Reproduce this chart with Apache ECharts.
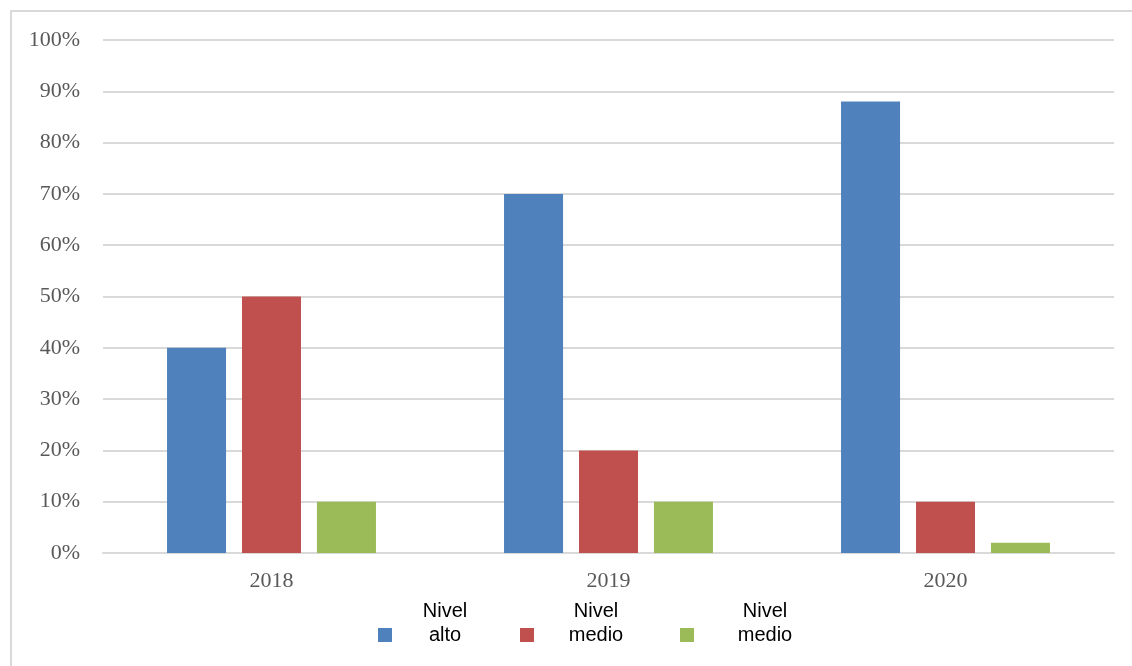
<!DOCTYPE html>
<html>
<head>
<meta charset="utf-8">
<script src="https://cdn.jsdelivr.net/npm/echarts@6/dist/echarts.min.js"></script>
<style>
    html, body { margin: 0; padding: 0; background: #fff; }
    .frame {
        position: absolute;
        left: 10px;
        top: 10px;
        width: 1122px;
        height: 656px;
        border-top: 2px solid #d9d9d9;
        border-left: 2px solid #d9d9d9;
        box-sizing: border-box;
    }
    #chart { position: absolute; left: 0; top: 0; width: 1132px; height: 666px; }
</style>
</head>
<body>
<div class="frame"></div>
<div id="chart"></div>
<script>
const years = ['2018', '2019', '2020'];
const seriesNames = ['Nivel alto', 'Nivel medio', 'Nivel medio '];
const nivelAlto = [40, 70, 88];
const nivelMedio = [50, 20, 10];
const nivelMedio2 = [10, 10, 2];
const yTicks = [0, 10, 20, 30, 40, 50, 60, 70, 80, 90, 100];

const colors = ['#4f81bd', '#c0504d', '#9bbb59'];
const values = [nivelAlto, nivelMedio, nivelMedio2];
// legend text widths differ a bit per item in the original
const legendWidths = [96, 114, 132];

const chartInstance = echarts.init(document.getElementById('chart'));

const series = seriesNames.map((name, i) => ({
    name: name,
    type: 'bar',
    data: values[i],
    barGap: '27%',
    barCategoryGap: '38%',
    itemStyle: { color: colors[i] }
}));

const legendData = seriesNames.map((name, i) => ({
    name: name,
    textStyle: {
        rich: {
            c: {
                width: legendWidths[i],
                align: 'center',
                fontFamily: 'Liberation Sans',
                fontSize: 20,
                lineHeight: 24,
                color: '#000'
            }
        }
    }
}));

// square sits low, next to the second text line (tiny sliver on top keeps the box tall)
const legendIcon = 'path://M0,0L14,0L14,0.01L0,0.01Z M0,24L14,24L14,38L0,38Z';

const option = {
    animation: false,
    color: colors,
    grid: {
        left: 103,
        right: 18,
        top: 40,
        bottom: 113,
        containLabel: false
    },
    legend: {
        data: legendData,
        bottom: 16,
        left: 373,
        itemWidth: 14,
        itemHeight: 38,
        itemGap: 27,
        icon: legendIcon,
        formatter: name => {
            const parts = name.trim().split(' ');
            return '{c|' + parts[0] + '}\n{c|' + parts[1] + '}';
        }
    },
    xAxis: {
        type: 'category',
        data: years,
        axisLine: { lineStyle: { color: '#d9d9d9', width: 2 } },
        axisTick: { show: false },
        axisLabel: {
            margin: 17,
            fontFamily: 'Liberation Serif',
            fontSize: 22,
            color: '#595959'
        }
    },
    yAxis: {
        type: 'value',
        min: yTicks[0],
        max: yTicks[yTicks.length - 1],
        interval: 10,
        axisLine: { show: false },
        axisTick: { show: false },
        splitLine: { lineStyle: { color: '#d9d9d9', width: 2 } },
        axisLabel: {
            margin: 23,
            formatter: '{value}%',
            fontFamily: 'Liberation Serif',
            fontSize: 22,
            color: '#595959'
        }
    },
    series: series
};

chartInstance.setOption(option);
</script>
</body>
</html>
